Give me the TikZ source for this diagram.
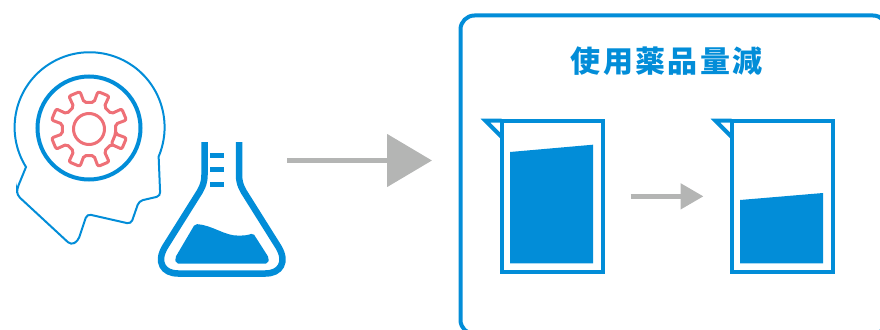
\documentclass[tikz,border=0pt]{standalone}
\usepackage{fontspec}
\newfontfamily\cjkfont[LetterSpace=8]{Noto Sans CJK JP}
\usetikzlibrary{arrows.meta,positioning}
\definecolor{iconblue}{HTML}{028DD8}
\definecolor{geargray}{HTML}{B4B5B4}
\definecolor{gearred}{HTML}{EE7077}

\begin{document}
\begin{tikzpicture}[
  x=1pt,y=-1pt,
  node distance=128.5pt,
  panel/.style={rectangle,rounded corners=14pt,draw=iconblue,line width=4pt,outer sep=0pt,minimum width=426.5pt,minimum height=318.5pt},
  beaker/.style={rectangle,draw=iconblue,line width=4pt,outer sep=0pt,inner sep=0pt,minimum width=101.5pt,minimum height=151.3pt},
  spout/.style={draw=iconblue,line width=4pt},
  liquid/.style={fill=iconblue},
  title/.style={font=\cjkfont\bfseries\fontsize{30}{30}\selectfont,text=iconblue,inner sep=0pt},
  arr/.style={geargray,line width=5pt,-{Triangle[length=45pt,width=52pt]}},
  smallarr/.style={geargray,line width=5pt,-{Triangle[length=23pt,width=25pt]},shorten <=27.5pt,shorten >=28pt},
  mark line/.style={iconblue,line width=5pt}
]
\useasboundingbox (0,0) rectangle (880,329);
\clip (0,0) rectangle (880,329);

\node[panel] (panel) at (673.75,174.75) {};
\node[title] (heading) at (666.7,60.7) {使用薬品量減};

\node[beaker] (beakerA) at (552.25,196.35) {};
\node[beaker,right=of beakerA] (beakerB) {};
\draw[spout] (beakerA.north west) -- ++(-16,0) -- ++(16,16);
\draw[spout] (beakerB.north west) -- ++(-16,0) -- ++(16,16);
\fill[liquid] (510,152) -- (593,144.7) -- (593,263.3) -- (510,263.3) -- cycle;
\fill[liquid] (740,200) -- (823,193) -- (823,263.3) -- (740,263.3) -- cycle;
\draw[smallarr] (beakerA) -- (beakerB);

\coordinate (arrowfrom) at (287,160.5);
\coordinate (arrowto) at (432,160.5);
\draw[arr] (arrowfrom) -- (arrowto);

% head with gear
\draw[iconblue,line width=2pt] (26,167) arc[start angle=148,end angle=383,radius=75]
  -- (160,190) [rounded corners=4pt] -- (160.5,196) -- (139,201) -- (131,224) -- (87,214) -- (78,241) -- (71,245) -- (17,195) -- (17,189) [sharp corners] -- cycle;
\node[circle,draw=iconblue,line width=4pt,minimum size=103pt,inner sep=0pt] (brain) at (89,128) {};
\begin{scope}[shift={(89,129)}]
\draw[gearred,line width=3pt,rounded corners=2pt] (10.5:27)
  foreach \a in {22.5,67.5,...,382.5} {-- ({\a-12}:27) -- ({\a-9}:38.5) -- ({\a+9}:38.5) -- ({\a+12}:27)} -- cycle;
\draw[gearred,line width=3pt] (0,0) circle (15.5);
\end{scope}

% flask
\draw[iconblue,line width=6.5pt] (204.5,142) -- (204.5,175) .. controls (204.5,184) and (201,190) .. (197,196)
  -- (165,247) .. controls (156,262) and (163,273.5) .. (178,273.5) -- (265.5,273.5)
  .. controls (280.5,273.5) and (287.5,262) .. (278.5,247) -- (246.5,196)
  .. controls (242.5,190) and (239,184) .. (239,175) -- (239,142);
\foreach \y in {155.7,169.3,184.3}
  \draw[mark line] (210,\y) -- (224,\y);
\fill[liquid,rounded corners=2pt] (195,224) .. controls (212,225) and (225,236) .. (240,235.5) .. controls (246,235.5) and (250,234.5) .. (253,233)
  -- (269,258) -- (268,263.5) -- (176,263.5) -- (175,258) -- cycle;
\end{tikzpicture}
\end{document}
